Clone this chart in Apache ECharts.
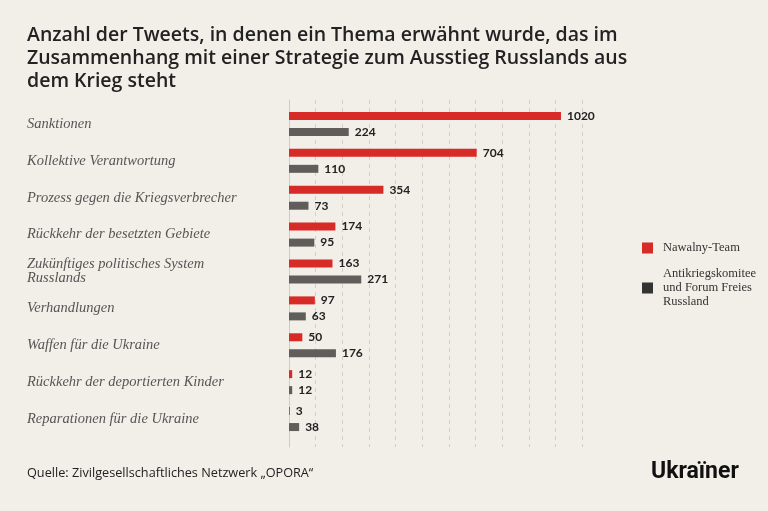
<!DOCTYPE html>
<html><head><meta charset="utf-8">
<script src="https://cdn.jsdelivr.net/npm/echarts@6/dist/echarts.min.js"></script>
<style>html,body{margin:0;padding:0;background:#f2efe9;}#c{width:768px;height:511px;}</style>
</head><body><div id="c"></div>
<script>
const categories = [
  "Sanktionen",
  "Kollektive Verantwortung",
  "Prozess gegen die Kriegsverbrecher",
  "Rückkehr der besetzten Gebiete",
  "Zukünftiges politisches System\nRusslands",
  "Verhandlungen",
  "Waffen für die Ukraine",
  "Rückkehr der deportierten Kinder",
  "Reparationen für die Ukraine"
];
const seriesNames = ["Nawalny-Team", "Antikriegskomitee\nund Forum Freies\nRussland"];
const nawalny = [1020, 704, 354, 174, 163, 97, 50, 12, 3];
const antikrieg = [224, 110, 73, 95, 271, 63, 176, 12, 38];

const chart = echarts.init(document.getElementById('c'));
const labelStyle = {show:true, position:'right', distance:6, color:'#222', fontFamily:'Lato', fontWeight:'bold', fontSize:12};
chart.setOption({
  backgroundColor:'#f2efe9',
  animation:false,
  title:{
    text:"Anzahl der Tweets, in denen ein Thema erwähnt wurde, das im\nZusammenhang mit einer Strategie zum Ausstieg Russlands aus\ndem Krieg steht",
    left:27, top:24, padding:0,
    textStyle:{fontFamily:'Open Sans', fontWeight:600, fontSize:19.5, lineHeight:23, color:'#222'}
  },
  legend:{
    orient:'vertical', left:642, top:241, itemWidth:11, itemHeight:11, itemGap:12, padding:0,
    textStyle:{fontFamily:'Liberation Serif', fontSize:12.5, color:'#333', lineHeight:14, padding:[0,0,0,5]},
    data:[
      {name:seriesNames[0], icon:'rect', itemStyle:{color:'#d72b27'}},
      {name:seriesNames[1], icon:'rect', itemStyle:{color:'#333333'}}
    ]
  },
  graphic:[
    {type:'text', left:27, top:467, style:{text:"Quelle: Zivilgesellschaftliches Netzwerk „OPORA“", fontFamily:'Open Sans', fontSize:12.7, fill:'#222'}},
    {type:'text', left:651, top:461, style:{text:"Ukraïner", fontFamily:'Roboto', fontWeight:'bold', fontSize:23, fill:'#111'}}
  ],
  grid:[
    {left:289, top:105.5, width:293.3, height:332, containLabel:false},
    {left:289, top:100, width:293.3, height:347, containLabel:false}
  ],
  xAxis:[
    {gridIndex:0, type:'value', min:0, max:1100, interval:100,
     axisLabel:{show:false}, axisLine:{show:false}, axisTick:{show:false}, splitLine:{show:false}},
    {gridIndex:1, type:'value', min:0, max:1100, interval:100,
     axisLabel:{show:false}, axisLine:{show:false}, axisTick:{show:false},
     splitLine:{show:true, lineStyle:{color:'#d3cec7', type:[4,4], width:1}}}
  ],
  yAxis:[
    {gridIndex:0, type:'category', data:categories, inverse:true, z:3,
     axisLine:{show:false}, axisTick:{show:false},
     axisLabel:{align:'left', margin:262, fontFamily:'Liberation Serif', fontStyle:'italic', fontSize:14.5, color:'#555', lineHeight:14}},
    {gridIndex:1, type:'value', min:0, max:1,
     axisLabel:{show:false}, axisTick:{show:false}, splitLine:{show:false},
     axisLine:{show:true, lineStyle:{color:'#cfcac3'}}}
  ],
  series:[
    {name:seriesNames[0], type:'bar', data:nawalny, barWidth:8, barGap:'100%', z:3, itemStyle:{color:'#d72b27'}, label:labelStyle},
    {name:seriesNames[1], type:'bar', data:antikrieg, barWidth:8, z:3, itemStyle:{color:'#615d5b'}, label:labelStyle}
  ]
});
</script></body></html>
